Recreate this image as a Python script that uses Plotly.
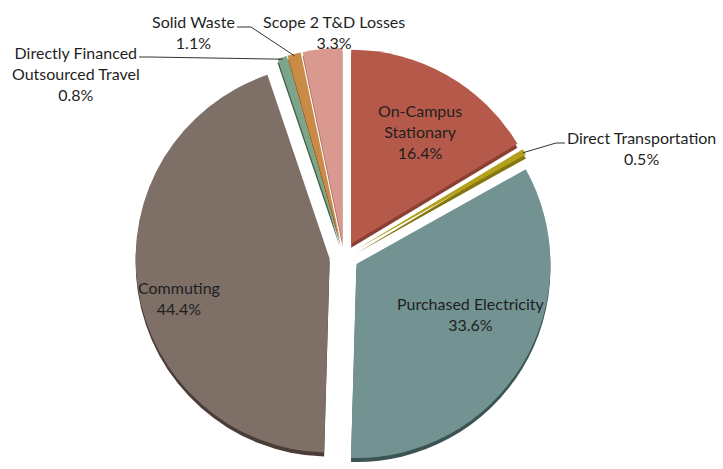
import math
import plotly.graph_objects as go

# Emission sources, clockwise from 12 o'clock
categories = [
    "On-Campus Stationary",
    "Direct Transportation",
    "Purchased Electricity",
    "Commuting",
    "Directly Financed Outsourced Travel",
    "Solid Waste",
    "Scope 2 T&D Losses",
]
shares = [16.4, 0.5, 33.6, 44.4, 0.8, 1.1, 3.3]
label_text = [
    "On-Campus<br>Stationary",
    "Direct Transportation",
    "Purchased Electricity",
    "Commuting",
    "Directly Financed<br>Outsourced Travel",
    "Solid Waste",
    "Scope 2 T&D Losses",
]

top_colors = ["#B55A4A", "#B3A11B", "#739393", "#7E6F67", "#7BA68A", "#C98B46", "#D9998F"]
side_colors = ["#8A3F33", "#857710", "#3C5353", "#4A3D37", "#3E5E48", "#8E5C28", "#A86C63"]

W, H = 723, 469
PULL = 0.075
pulls = [PULL] * len(shares)
DEPTH = 4  # px thickness of the pie's side face

# pie domain (plot area fractions)
dom_x = [0.0258, 0.9258]
pie_h = 0.8893
dom_side = [0.0, pie_h]
dom_top = [DEPTH / H, DEPTH / H + pie_h]

# label anchors in pixel space (text block centres) and leader-line elbows
label_pos = {
    "On-Campus Stationary": (420, 131),
    "Direct Transportation": (641, 147.5),
    "Purchased Electricity": (471, 313.5),
    "Commuting": (179, 298),
    "Directly Financed Outsourced Travel": (76, 73.5),
    "Solid Waste": (193, 31.5),
    "Scope 2 T&D Losses": (334, 31.5),
}
leaders = {
    "Direct Transportation": [(565, 143), (556, 143)],
    "Directly Financed Outsourced Travel": [(139, 57), (150, 57)],
    "Solid Waste": [(237, 27), (251, 27)],
}

fig = go.Figure()
for dom, cols in ((dom_side, side_colors), (dom_top, top_colors)):
    fig.add_trace(go.Pie(
        labels=categories,
        values=shares,
        sort=False,
        direction="clockwise",
        rotation=0,
        pull=pulls,
        marker=dict(colors=cols, line=dict(width=0)),
        textinfo="none",
        hoverinfo="skip",
        showlegend=False,
        domain=dict(x=dom_x, y=dom),
    ))

# geometry of the top pie, following plotly's own pie scaling
rx = W * (dom_x[1] - dom_x[0]) / 2
ry = H * (dom_top[1] - dom_top[0]) / 2
r = min(rx, ry) / (1 + max(pulls))
cx = W * (dom_x[0] + dom_x[1]) / 2
cy = H * (1 - dom_top[0]) - ry

total = sum(shares)
cum = 0.0
font = dict(family="Lato, 'Open Sans', sans-serif", size=16, color="#1F1F1F")
for name, val, txt, pl in zip(categories, shares, label_text, pulls):
    mid = (cum + val / 2) / total * 2 * math.pi
    cum += val
    lx, ly = label_pos[name]
    fig.add_annotation(
        x=lx, y=ly, xref="x", yref="y",
        text=f"{txt}<br>{val:.1f}%",
        showarrow=False, font=font, align="center",
    )
    if name in leaders:
        rr = r * (1 + pl) - 2
        tip = (cx + rr * math.sin(mid), cy - rr * math.cos(mid))
        pts = leaders[name] + [tip]
        path = "M " + " L ".join(f"{x:.1f} {y:.1f}" for x, y in pts)
        fig.add_shape(type="path", path=path, xref="x", yref="y",
                      line=dict(color="#333333", width=1), layer="above")

# invisible pixel-space axes for labels and leader lines
fig.add_trace(go.Scatter(x=[None], y=[None], showlegend=False, hoverinfo="skip"))
fig.update_xaxes(range=[0, W], visible=False, fixedrange=True)
fig.update_yaxes(range=[H, 0], visible=False, fixedrange=True)

fig.update_layout(
    width=W, height=H,
    margin=dict(l=0, r=0, t=0, b=0),
    paper_bgcolor="white", plot_bgcolor="rgba(0,0,0,0)",
    showlegend=False,
)
fig.write_html("out.html")
